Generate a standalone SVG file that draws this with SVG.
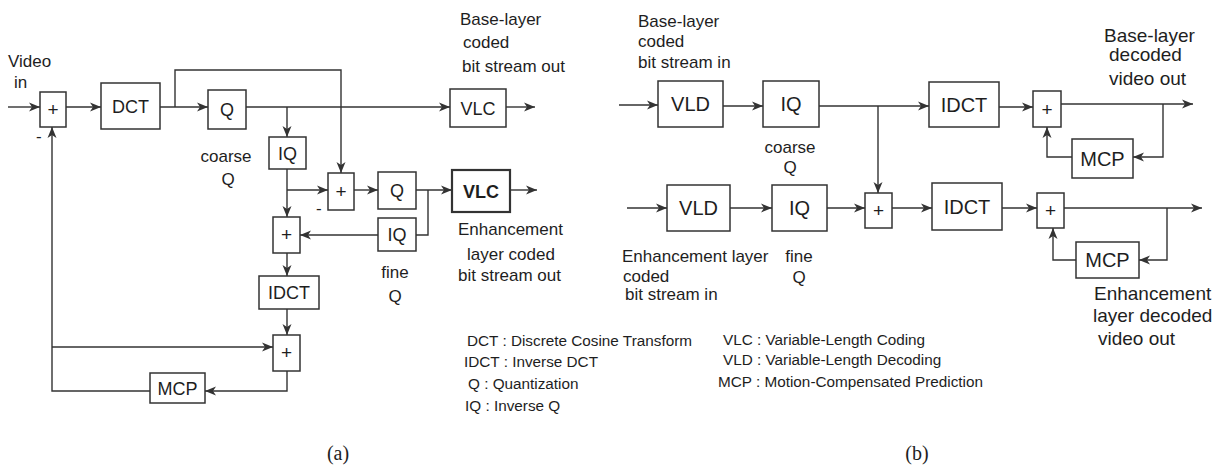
<svg xmlns="http://www.w3.org/2000/svg" width="1224" height="467" viewBox="0 0 1224 467">
<style>
.box{fill:#fff;stroke:#333;stroke-width:1.5}
.bold{stroke-width:2.2}
.ln{fill:none;stroke:#333;stroke-width:1.4}
.arr{marker-end:url(#ah)}
text{font-family:"Liberation Sans",Arial,sans-serif;fill:#1e1e1e}
.bl{font-size:18px;text-anchor:middle}
.bl2{font-size:20px;text-anchor:middle}
.pl{font-size:19px;text-anchor:middle}
.lb{font-size:17px}
.lb2{font-size:19px}
.lg{font-size:15.3px}
.cap{font-family:"Liberation Serif","Times New Roman",serif;font-size:20px;text-anchor:middle}
</style>
<defs>
<marker id="ah" markerUnits="userSpaceOnUse" markerWidth="12" markerHeight="10" refX="11" refY="5" orient="auto">
<path d="M0,0.5 L11,5 L0,9.5 L3,5 z" fill="#333"/>
</marker>
</defs>
<g id="connectors">
<!-- (a) -->
<path class="ln arr" d="M8,107 H40"/>
<path class="ln arr" d="M66,107 H101"/>
<path class="ln arr" d="M160,107 H208"/>
<path class="ln arr" d="M175,107 V70 H341 V173"/>
<path class="ln arr" d="M246,107 H450"/>
<path class="ln arr" d="M506,107 H535"/>
<path class="ln arr" d="M287,107 V137"/>
<path class="ln arr" d="M287,169 V217"/>
<path class="ln arr" d="M287,190 H328"/>
<path class="ln arr" d="M354,190 H378"/>
<path class="ln arr" d="M416,190 H452"/>
<path class="ln arr" d="M510,190 H537"/>
<path class="ln" d="M428,190 V235 H416"/>
<path class="ln arr" d="M378,235 H300"/>
<path class="ln arr" d="M287,253 V276"/>
<path class="ln arr" d="M287,309 V335"/>
<path class="ln arr" d="M52,347 H273"/>
<path class="ln arr" d="M287,371 V391 H205"/>
<path class="ln arr" d="M150,391 H52 V127"/>
<!-- (b) -->
<path class="ln arr" d="M619,105 H658"/>
<path class="ln arr" d="M723,106 H763"/>
<path class="ln arr" d="M819,106 H929"/>
<path class="ln arr" d="M878,106 V193"/>
<path class="ln arr" d="M999,107 H1033"/>
<path class="ln arr" d="M1061,104 H1193"/>
<path class="ln arr" d="M1163,104 V157 H1133"/>
<path class="ln arr" d="M1072,157 H1047 V127"/>
<path class="ln arr" d="M627,208 H667"/>
<path class="ln arr" d="M730,208 H772"/>
<path class="ln arr" d="M827,208 H865"/>
<path class="ln arr" d="M892,208 H932"/>
<path class="ln arr" d="M1002,208 H1037"/>
<path class="ln arr" d="M1064,208 H1202"/>
<path class="ln arr" d="M1167,208 V260 H1139"/>
<path class="ln arr" d="M1076,260 H1053 V228"/>
</g>
<!-- (a) nodes -->
<g id="a-sum1"><rect class="box" x="40" y="92" width="26" height="35"/><text class="pl" x="53" y="116">+</text></g>
<g id="a-dct"><rect class="box" x="101" y="83" width="59" height="46"/><text class="bl" x="130.5" y="112.5">DCT</text></g>
<g id="a-q"><rect class="box" x="208" y="90" width="38" height="39"/><text class="bl" x="227" y="116">Q</text></g>
<g id="a-iq"><rect class="box" x="269" y="137" width="37" height="32"/><text class="bl" x="287.5" y="159.5">IQ</text></g>
<g id="a-vlc"><rect class="box" x="450" y="89" width="56" height="38"/><text class="bl" x="478" y="114.5">VLC</text></g>
<g id="a-sum2"><rect class="box" x="328" y="173" width="26" height="37"/><text class="pl" x="341" y="198">+</text></g>
<g id="a-q2"><rect class="box" x="378" y="172" width="38" height="37"/><text class="bl" x="397" y="197">Q</text></g>
<g id="a-vlc2"><rect class="box bold" x="452" y="170" width="58" height="42"/><text class="bl" x="481" y="197.5" style="font-weight:bold">VLC</text></g>
<g id="a-iq2"><rect class="box" x="378" y="218" width="38" height="33"/><text class="bl" x="397" y="241">IQ</text></g>
<g id="a-sum3"><rect class="box" x="273" y="217" width="27" height="36"/><text class="pl" x="286.5" y="241">+</text></g>
<g id="a-idct"><rect class="box" x="259" y="276" width="60" height="33"/><text class="bl" x="289" y="299">IDCT</text></g>
<g id="a-sum4"><rect class="box" x="273" y="335" width="27" height="36"/><text class="pl" x="286.5" y="359">+</text></g>
<g id="a-mcp"><rect class="box" x="150" y="373" width="55" height="30"/><text class="bl" x="177.5" y="394.5">MCP</text></g>
<!-- (a) labels -->
<g id="a-labels">
<text class="lb" x="8" y="67">Video</text>
<text class="lb" x="14" y="88">in</text>
<text class="lb" x="36" y="142">-</text>
<text class="lb" x="316" y="214">-</text>
<text class="bl" x="226" y="162" style="font-size:17px">coarse</text>
<text class="bl" x="228" y="185" style="font-size:17px">Q</text>
<text class="lb" x="460" y="25">Base-layer</text>
<text class="lb" x="463" y="48">coded</text>
<text class="lb" x="462" y="72">bit stream out</text>
<text class="bl" x="395" y="278" style="font-size:17px">fine</text>
<text class="bl" x="395" y="302" style="font-size:17px">Q</text>
<text class="lb" x="458" y="235">Enhancement</text>
<text class="lb" x="467" y="260">layer coded</text>
<text class="lb" x="458" y="281">bit stream out</text>
</g>
<!-- (b) nodes -->
<g id="b-vld"><rect class="box" x="658" y="81" width="65" height="46"/><text class="bl2" x="690.5" y="111">VLD</text></g>
<g id="b-iq"><rect class="box" x="763" y="81" width="56" height="46"/><text class="bl2" x="791" y="111">IQ</text></g>
<g id="b-idct"><rect class="box" x="929" y="82" width="70" height="45"/><text class="bl2" x="964" y="111.5">IDCT</text></g>
<g id="b-sum1"><rect class="box" x="1033" y="91" width="28" height="36"/><text class="pl" x="1047" y="116">+</text></g>
<g id="b-mcp"><rect class="box" x="1072" y="139" width="61" height="39"/><text class="bl2" x="1102.5" y="165.5">MCP</text></g>
<g id="b-vld2"><rect class="box" x="667" y="185" width="63" height="46"/><text class="bl2" x="698.5" y="215">VLD</text></g>
<g id="b-iq2"><rect class="box" x="772" y="185" width="55" height="46"/><text class="bl2" x="799.5" y="215">IQ</text></g>
<g id="b-sum2"><rect class="box" x="865" y="193" width="27" height="35"/><text class="pl" x="878.5" y="217">+</text></g>
<g id="b-idct2"><rect class="box" x="932" y="183" width="70" height="47"/><text class="bl2" x="967" y="213.5">IDCT</text></g>
<g id="b-sum3"><rect class="box" x="1037" y="193" width="27" height="35"/><text class="pl" x="1050.5" y="217">+</text></g>
<g id="b-mcp2"><rect class="box" x="1076" y="242" width="63" height="36"/><text class="bl2" x="1107.5" y="267">MCP</text></g>
<!-- (b) labels -->
<g id="b-labels">
<text class="lb" x="638" y="27">Base-layer</text>
<text class="lb" x="638" y="47">coded</text>
<text class="lb" x="638" y="68">bit stream in</text>
<text class="bl" x="790" y="153" style="font-size:17px">coarse</text>
<text class="bl" x="790" y="173" style="font-size:17px">Q</text>
<text class="lb" x="622" y="262">Enhancement layer</text>
<text class="lb" x="623" y="282">coded</text>
<text class="lb" x="625" y="300">bit stream in</text>
<text class="bl" x="799" y="262" style="font-size:17px">fine</text>
<text class="bl" x="799" y="283" style="font-size:17px">Q</text>
<text class="lb2" x="1104" y="42">Base-layer</text>
<text class="lb2" x="1109" y="61">decoded</text>
<text class="lb2" x="1109" y="85">video out</text>
<text class="lb2" x="1094" y="300">Enhancement</text>
<text class="lb2" x="1093" y="322">layer decoded</text>
<text class="lb2" x="1098" y="345">video out</text>
</g>
<!-- legend -->
<g id="legend">
<text class="lg" x="467" y="346">DCT : Discrete Cosine Transform</text>
<text class="lg" x="464" y="367">IDCT : Inverse DCT</text>
<text class="lg" x="468" y="389">Q : Quantization</text>
<text class="lg" x="465" y="411">IQ : Inverse Q</text>
<text class="lg" x="723" y="345">VLC : Variable-Length Coding</text>
<text class="lg" x="723" y="365">VLD : Variable-Length Decoding</text>
<text class="lg" x="718" y="387">MCP : Motion-Compensated Prediction</text>
</g>
<g id="captions">
<text class="cap" x="338" y="460">(a)</text>
<text class="cap" x="917" y="460">(b)</text>
</g>
</svg>
